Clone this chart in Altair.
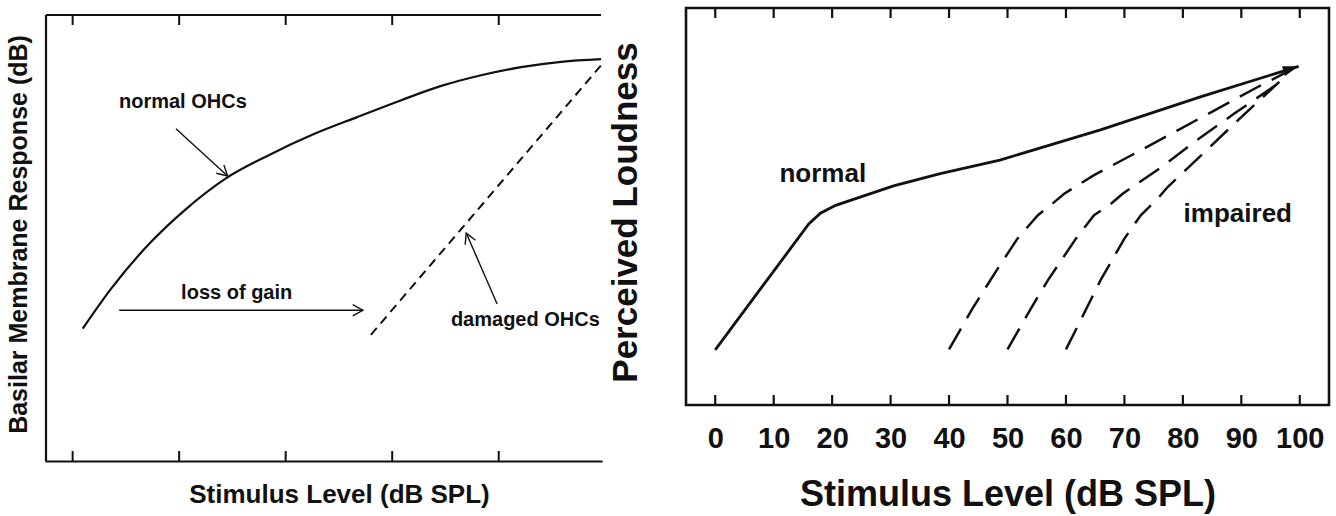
import math
import altair as alt
import pandas as pd

# ---------------- data ----------------
# Left panel: basilar membrane response (arbitrary units, frame top = 100)
bm_level_normal = [1.9, 7.2, 14.7, 20.9, 29.2, 37.2, 45.3, 53.4, 61.7, 69.2, 76.7, 84.2, 91.7, 99.2]
bm_resp_normal = [29.7, 38.6, 49.1, 56.1, 63.7, 68.8, 73.3, 77.1, 80.9, 84.1, 86.5, 88.3, 89.5, 90.1]
bm_level_damaged = [56.0, 99.2]
bm_resp_damaged = [28.3, 88.7]
bm_ticks = [0, 20, 40, 60, 80]

bm_labels = ["normal OHCs", "loss of gain", "damaged OHCs"]
bm_label_x = [20.7, 30.8, 85.0]
bm_label_y = [80.5, 37.7, 31.6]

bm_arrow_x1 = [19.4, 8.75, 79.7]
bm_arrow_y1 = [74.5, 33.8, 35.2]
bm_arrow_x2 = [29.1, 54.5, 73.9]
bm_arrow_y2 = [63.9, 33.8, 51.1]

# Right panel: perceived loudness vs stimulus level (dB SPL)
ld_level_normal = [0, 16.0, 18.0, 20.6, 30.5, 38.5, 48.7, 65.9, 83.0, 99.8]
ld_normal = [13.9, 45.6, 48.3, 50.3, 55.2, 58.3, 61.7, 69.3, 77.6, 85.3]

ld_level_imp1 = [40, 44.0, 48.3, 51.7, 55.2, 58.0, 59.7, 64.8, 71.7, 79.1, 85.9, 92.8, 97.6]
ld_imp1 = [14.0, 24.3, 34.3, 41.9, 47.8, 51.1, 53.2, 57.9, 63.3, 69.2, 74.6, 80.1, 83.7]
ld_level_imp2 = [50, 54.0, 56.9, 61.7, 64.8, 67.7, 69.7, 76.8, 81.9, 88.8, 96.5]
ld_imp2 = [14.0, 24.3, 31.4, 41.9, 47.8, 50.7, 53.2, 60.4, 66.2, 73.4, 81.2]
ld_level_imp3 = [60, 62.5, 65.9, 70.0, 72.8, 75.7, 77.4, 82.5, 89.4, 96.5]
ld_imp3 = [14.0, 21.3, 31.4, 41.9, 47.8, 52.0, 54.9, 62.0, 71.7, 81.4]

ld_ticks = [0, 10, 20, 30, 40, 50, 60, 70, 80, 90, 100]
ld_labels = ["normal", "impaired"]
ld_label_x = [18.4, 89.4]
ld_label_y = [58.3, 48.2]

# ---------------- styling ----------------
FONT = "Liberation Sans"
INK = "#111111"
L_DOM = [-5, 99.2]
L_YDOM = [0, 101.57]
R_DOM = [-5, 105]
L_W, L_H = 555, 453
R_W, R_H = 643, 397

lx = alt.Scale(domain=L_DOM, nice=False, zero=False)
ly = alt.Scale(domain=L_YDOM, nice=False, zero=False)
rx = alt.Scale(domain=R_DOM, nice=False, zero=False)
ry = alt.Scale(domain=[0, 100], nice=False, zero=False)


def screen_angle(x1, y1, x2, y2, ppx, ppy):
    a = math.degrees(math.atan2(-(y2 - y1) * ppy, (x2 - x1) * ppx))
    return a % 360


# ---------------- left panel ----------------
ppx_l = L_W / (L_DOM[1] - L_DOM[0])
ppy_l = L_H / (L_YDOM[1] - L_YDOM[0])

bm_normal_df = pd.DataFrame({"x": bm_level_normal, "y": bm_resp_normal})
bm_damaged_df = pd.DataFrame({"x": bm_level_damaged, "y": bm_resp_damaged})
bm_ticks_df = pd.DataFrame({"x": bm_ticks})
bm_text_df = pd.DataFrame({"x": bm_label_x, "y": bm_label_y, "label": bm_labels})
bm_arrow_df = pd.DataFrame({
    "x": bm_arrow_x1, "y": bm_arrow_y1, "x2": bm_arrow_x2, "y2": bm_arrow_y2,
})
bm_arrow_df["angle"] = [
    screen_angle(a, b, c, d, ppx_l, ppy_l)
    for a, b, c, d in zip(bm_arrow_x1, bm_arrow_y1, bm_arrow_x2, bm_arrow_y2)
]
bm_frame_df = pd.DataFrame({"x": [L_DOM[0]], "x2": [L_DOM[1]], "y": [0], "y2": [100]})

left_x_axis = alt.Axis(
    orient="bottom", title="Stimulus Level (dB SPL)", labels=False,
    ticks=False, tickSize=0, grid=False, domain=True, domainColor=INK,
    domainWidth=2.2, domainCap="square", titleFont=FONT, titleFontSize=26,
    titleFontWeight="bold", titleColor=INK, titlePadding=20, titleX=293)
left_y_axis = alt.Axis(
    title="Basilar Membrane Response (dB)", labels=False, ticks=False,
    tickSize=0, grid=False, domain=False, titleFont=FONT, titleFontSize=25,
    titleFontWeight="bold", titleColor=INK, titlePadding=15, titleY=226)

left_curve = alt.Chart(bm_normal_df).mark_line(
    color=INK, strokeWidth=2.2, interpolate="monotone"
).encode(
    x=alt.X("x:Q", scale=lx, axis=left_x_axis),
    y=alt.Y("y:Q", scale=ly, axis=left_y_axis),
)

left_damaged = alt.Chart(bm_damaged_df).mark_line(
    color=INK, strokeWidth=2, strokeDash=[9, 6]
).encode(x=alt.X("x:Q", scale=lx), y=alt.Y("y:Q", scale=ly))

# frame: left and top borders of the left panel
left_border = alt.Chart(bm_frame_df).mark_rule(color=INK, strokeWidth=2.2).encode(
    x=alt.X("x:Q", scale=lx), y=alt.Y("y:Q", scale=ly), y2="y2:Q",
)
top_border = alt.Chart(bm_frame_df).mark_rule(color=INK, strokeWidth=2.2).encode(
    x=alt.X("x:Q", scale=lx), x2="x2:Q", y=alt.Y("y2:Q", scale=ly),
)

left_ticks_bottom = alt.Chart(bm_ticks_df).mark_rule(color=INK, strokeWidth=2).encode(
    x=alt.X("x:Q", scale=lx),
    y=alt.value(L_H), y2=alt.value(L_H - 10),
)
left_ticks_top = alt.Chart(bm_ticks_df).mark_rule(color=INK, strokeWidth=2).encode(
    x=alt.X("x:Q", scale=lx),
    y=alt.value(7), y2=alt.value(17),
)

left_arrow_shafts = alt.Chart(bm_arrow_df).mark_rule(color=INK, strokeWidth=1.4).encode(
    x=alt.X("x:Q", scale=lx), y=alt.Y("y:Q", scale=ly),
    x2="x2:Q", y2="y2:Q",
)
left_arrow_heads = alt.Chart(bm_arrow_df).mark_point(
    shape="M-1,-0.55L0,0L-1,0.55", filled=False, color=INK, strokeWidth=1.4,
    size=420, opacity=1,
).encode(
    x=alt.X("x2:Q", scale=lx), y=alt.Y("y2:Q", scale=ly),
    angle=alt.Angle("angle:Q", scale=None),
)

left_text = alt.Chart(bm_text_df).mark_text(
    font=FONT, fontSize=20, fontWeight="bold", color=INK
).encode(
    x=alt.X("x:Q", scale=lx), y=alt.Y("y:Q", scale=ly), text="label:N",
)

left = alt.layer(
    left_curve, left_damaged, left_border, top_border, left_ticks_bottom,
    left_ticks_top, left_arrow_shafts, left_arrow_heads, left_text,
).properties(width=L_W, height=L_H)

# ---------------- right panel ----------------
ppx_r = R_W / (R_DOM[1] - R_DOM[0])
ppy_r = R_H / 100.0

ld_normal_df = pd.DataFrame({"x": ld_level_normal, "y": ld_normal})
imp_frames = []
for name, xs, ys in [("a", ld_level_imp1, ld_imp1), ("b", ld_level_imp2, ld_imp2),
                     ("c", ld_level_imp3, ld_imp3)]:
    imp_frames.append(pd.DataFrame({"x": xs, "y": ys, "curve": name}))
ld_imp_df = pd.concat(imp_frames, ignore_index=True)
ld_ticks_df = pd.DataFrame({"x": ld_ticks})
ld_text_df = pd.DataFrame({"x": ld_label_x, "y": ld_label_y, "label": ld_labels})
ld_head_df = pd.DataFrame({
    "x": [ld_level_normal[-1]], "y": [ld_normal[-1]],
    "angle": [screen_angle(ld_level_normal[-2], ld_normal[-2],
                           ld_level_normal[-1], ld_normal[-1], ppx_r, ppy_r)],
})

right_x_axis = alt.Axis(
    values=ld_ticks, ticks=False, tickSize=0, domain=False, grid=False,
    labelFont=FONT, labelFontSize=29, labelFontWeight="bold",
    labelColor=INK, labelPadding=19, labelFlush=False,
    title="Stimulus Level (dB SPL)", titleFont=FONT, titleFontSize=36,
    titleFontWeight="bold", titleColor=INK, titlePadding=24)
right_y_axis = alt.Axis(
    title="Perceived Loudness", labels=False, ticks=False, tickSize=0,
    domain=False, grid=False, titleFont=FONT, titleFontSize=35,
    titleFontWeight="bold", titleColor=INK, titlePadding=43, titleY=204)

right_normal = alt.Chart(ld_normal_df).mark_line(
    color=INK, strokeWidth=2.8
).encode(
    x=alt.X("x:Q", scale=rx, axis=right_x_axis),
    y=alt.Y("y:Q", scale=ry, axis=right_y_axis),
)

right_impaired = alt.Chart(ld_imp_df).mark_line(
    color=INK, strokeWidth=2.5, strokeDash=[24, 12]
).encode(
    x=alt.X("x:Q", scale=rx), y=alt.Y("y:Q", scale=ry), detail="curve:N",
)

right_head = alt.Chart(ld_head_df).mark_point(
    shape="M-1,-0.32L0,0L-1,0.32Z", filled=True, color=INK, size=1000, opacity=1,
).encode(
    x=alt.X("x:Q", scale=rx), y=alt.Y("y:Q", scale=ry),
    angle=alt.Angle("angle:Q", scale=None),
)

right_ticks_bottom = alt.Chart(ld_ticks_df).mark_rule(color=INK, strokeWidth=2.2).encode(
    x=alt.X("x:Q", scale=rx),
    y=alt.value(R_H), y2=alt.value(R_H - 10),
)
right_ticks_top = alt.Chart(ld_ticks_df).mark_rule(color=INK, strokeWidth=2.2).encode(
    x=alt.X("x:Q", scale=rx),
    y=alt.value(0), y2=alt.value(10),
)

right_text = alt.Chart(ld_text_df).mark_text(
    font=FONT, fontSize=26, fontWeight="bold", color=INK
).encode(
    x=alt.X("x:Q", scale=rx), y=alt.Y("y:Q", scale=ry), text="label:N",
)

right = alt.layer(
    right_normal, right_impaired, right_head, right_ticks_bottom,
    right_ticks_top, right_text,
).properties(
    width=R_W, height=R_H,
    view=alt.ViewBackground(stroke=INK, strokeWidth=2.6),
)

chart = alt.hconcat(left, right, spacing=0).properties(
    padding={"left": 5, "top": 5, "right": 0, "bottom": 0},
    background="white",
).configure_view(stroke="transparent")

chart.save("out.html", embed_options={"renderer": "svg", "actions": False})
